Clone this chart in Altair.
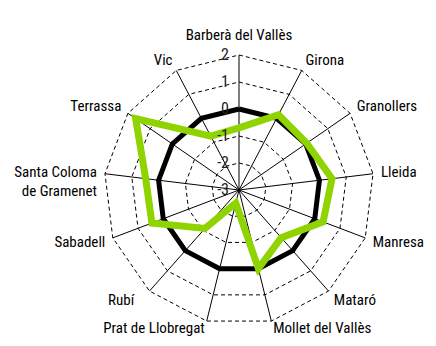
import altair as alt
import pandas as pd

categories = ["Barberà del Vallès", "Girona", "Granollers", "Lleida", "Manresa",
              "Mataró", "Mollet del Vallès", "Prat de Llobregat", "Rubí", "Sabadell",
              "Santa Coloma\nde Gramenet", "Terrassa", "Vic"]
green_values = [-0.7, 0.15, 0.05, 0.47, 0.33, -0.64, 0.0, -2.5, -1.1, 0.45, 0.48, 1.65, -0.75]
reference_values = [0, 0, 0, 0, 0, 0, 0, 0, 0, 0, 0, 0, 0]
grid_levels = [-2, -1, 0, 1, 2]
tick_values = [2, 1, 0, -1, -2, -3]
tick_labels = ["2", "1", "0", "-1", "-2", "-3"]
r_min, r_max = -3, 2

N = len(categories)
FONT = "Liberation Sans Narrow, Roboto Condensed, Roboto, sans-serif"

# tables built from the arrays
series_rows = []
for name, vals in [("ref", reference_values), ("green", green_values)]:
    for i in range(N + 1):
        series_rows.append({"series": name, "idx": i % N, "ord": i, "value": vals[i % N]})
series_df = pd.DataFrame(series_rows)

grid_rows = []
for lv in grid_levels:
    for i in range(N + 1):
        grid_rows.append({"level": lv, "idx": i % N, "ord": i})
grid_df = pd.DataFrame(grid_rows)

cat_df = pd.DataFrame({"idx": list(range(N)), "name": categories})
tick_df = pd.DataFrame({"value": tick_values, "label": tick_labels})

xs = alt.Scale(domain=[-231 / 27, 189 / 27], nice=False, zero=False)
ys = alt.Scale(domain=[-148 / 27, 182 / 27], nice=False, zero=False)

theta = f"datum.idx * 2 * PI / {N}"

grid = alt.Chart(grid_df).transform_calculate(
    r=f"datum.level - ({r_min})"
).transform_calculate(
    x=f"datum.r * sin({theta})", y=f"datum.r * cos({theta})"
).mark_line(color="black", strokeWidth=1, strokeDash=[4, 3]).encode(
    x=alt.X("x:Q", scale=xs, axis=None),
    y=alt.Y("y:Q", scale=ys, axis=None),
    detail="level:N",
    order="ord:Q",
)

spokes = alt.Chart(cat_df).transform_calculate(
    x0="0", y0="0",
    x=f"{r_max - r_min} * sin({theta})", y=f"{r_max - r_min} * cos({theta})"
).mark_rule(color="black", strokeWidth=1).encode(
    x=alt.X("x0:Q", scale=xs, axis=None),
    y=alt.Y("y0:Q", scale=ys, axis=None),
    x2="x:Q", y2="y:Q",
)

def series_layer(name, color, width):
    return alt.Chart(series_df).transform_filter(
        f"datum.series == '{name}'"
    ).transform_calculate(
        r=f"datum.value - ({r_min})"
    ).transform_calculate(
        x=f"datum.r * sin({theta})", y=f"datum.r * cos({theta})"
    ).mark_line(color=color, strokeWidth=width, strokeJoin="miter").encode(
        x=alt.X("x:Q", scale=xs, axis=None),
        y=alt.Y("y:Q", scale=ys, axis=None),
        order="ord:Q",
    )

ref_line = series_layer("ref", "black", 5)
green_line = series_layer("green", "#8fd400", 7)

def label_layer(cond, align, rx, ry):
    return alt.Chart(cat_df).transform_filter(cond).transform_calculate(
        x=f"{rx} * sin({theta})", y=f"{ry} * cos({theta})"
    ).mark_text(align=align, baseline="middle", font=FONT, fontSize=15,
                color="black", lineBreak="\n", lineHeight=19).encode(
        x=alt.X("x:Q", scale=xs, axis=None),
        y=alt.Y("y:Q", scale=ys, axis=None),
        text="name:N",
    )

lab_c = label_layer("datum.idx == 0", "center", 0, 155 / 27)
lab_l = label_layer("datum.idx >= 1 && datum.idx <= 5", "left", 143 / 27, 147 / 27)
lab_bl = label_layer("datum.idx == 6", "left", 143 / 27, 142 / 27)
lab_br = label_layer("datum.idx == 7", "right", 143 / 27, 142 / 27)
lab_rubi = label_layer("datum.idx == 8", "right", 158 / 27, 147 / 27)
lab_r = label_layer("datum.idx >= 9", "right", 143 / 27, 147 / 27)

ticks = alt.Chart(tick_df).transform_calculate(
    x="0", y=f"datum.value - ({r_min})"
).mark_text(align="right", baseline="middle", dx=-10, font=FONT, fontSize=16,
            color="#222").encode(
    x=alt.X("x:Q", scale=xs, axis=None),
    y=alt.Y("y:Q", scale=ys, axis=None),
    text="label:N",
)

chart = alt.layer(grid, spokes, ref_line, green_line, ticks,
                  lab_c, lab_l, lab_bl, lab_br, lab_rubi, lab_r).properties(
    width=420, height=330, padding=0, autosize=alt.AutoSizeParams(type="none")
).configure_view(stroke=None)

chart.save("out.html", embed_options={"renderer": "svg", "actions": False})
